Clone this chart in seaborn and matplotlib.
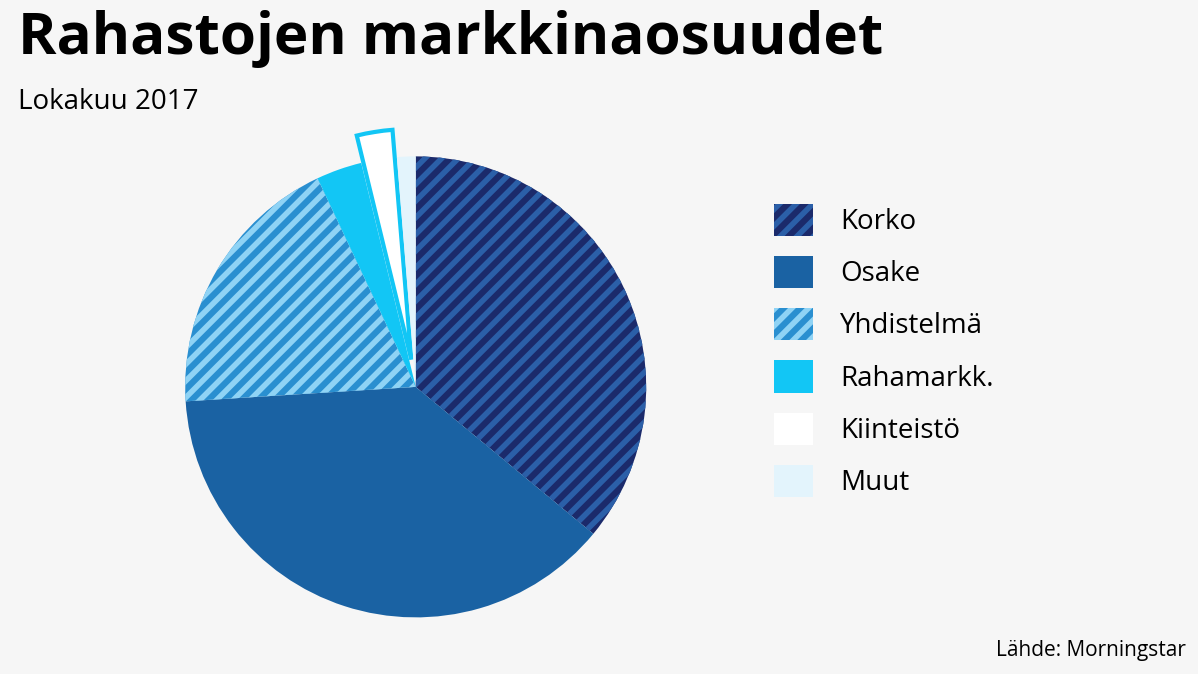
import matplotlib
matplotlib.use("Agg")
import matplotlib.pyplot as plt
import seaborn as sns
from matplotlib.patches import Patch

sns.set_theme(style="white")
plt.rcParams['font.family'] = ['Open Sans', 'DejaVu Sans']
plt.rcParams['hatch.linewidth'] = 4

categories = ["Korko", "Osake", "Yhdistelmä", "Rahamarkk.", "Kiinteistö", "Muut"]
values = [36.0, 38.0, 19.0, 3.2, 2.5, 1.3]
colors = ["#1b2a6b", "#1a62a3", "#2a8fd0", "#12c6f5", "#ffffff", "#e3f4fc"]
hatches = ["//", "", "//", "", "", ""]
hatch_colors = ["#2b5fa8", None, "#8fd3f5", None, None, None]
explode = [0, 0, 0, 0, 0.12, 0]

bg = "#f6f6f6"
fig = plt.figure(figsize=(11.98, 6.74), dpi=100, facecolor=bg)
ax = fig.add_axes([0.117, 0.084, 0.46, 0.684])
ax.set_facecolor(bg)
wedges, _ = ax.pie(values, colors=colors, startangle=90, counterclock=False,
                   explode=explode, wedgeprops=dict(linewidth=0))
for w, h, hc in zip(wedges, hatches, hatch_colors):
    w.set_clip_on(False)
    if h:
        w.set_hatch(h)
        w.set_edgecolor(hc)
        w.set_linewidth(0)
wedges[4].set_edgecolor("#12c6f5")
wedges[4].set_linewidth(3)
ax.set_xlim(-1, 1)
ax.set_ylim(-1, 1)
ax.set_aspect("equal")
ax.axis("off")

handles = []
for c, h, hc in zip(colors, hatches, hatch_colors):
    p = Patch(facecolor=c, hatch=h, edgecolor=hc if hc else c, linewidth=0)
    handles.append(p)
leg = fig.legend(handles, categories, loc="upper left", bbox_to_anchor=(0.625, 0.735),
                 frameon=False, fontsize=20, handlelength=1.4, handleheight=1.4,
                 labelspacing=0.72, handletextpad=1.0, labelcolor="#000000")

fig.text(0.015, 0.985, "Rahastojen markkinaosuudet", fontsize=42, fontweight="bold",
         va="top", ha="left", color="#000000")
fig.text(0.015, 0.87, "Lokakuu 2017", fontsize=20, va="top", ha="left", color="#000000")
fig.text(0.99, 0.02, "Lähde: Morningstar", fontsize=15, va="bottom", ha="right", color="#000000")

fig.savefig("out.png", dpi=100, facecolor=bg)
